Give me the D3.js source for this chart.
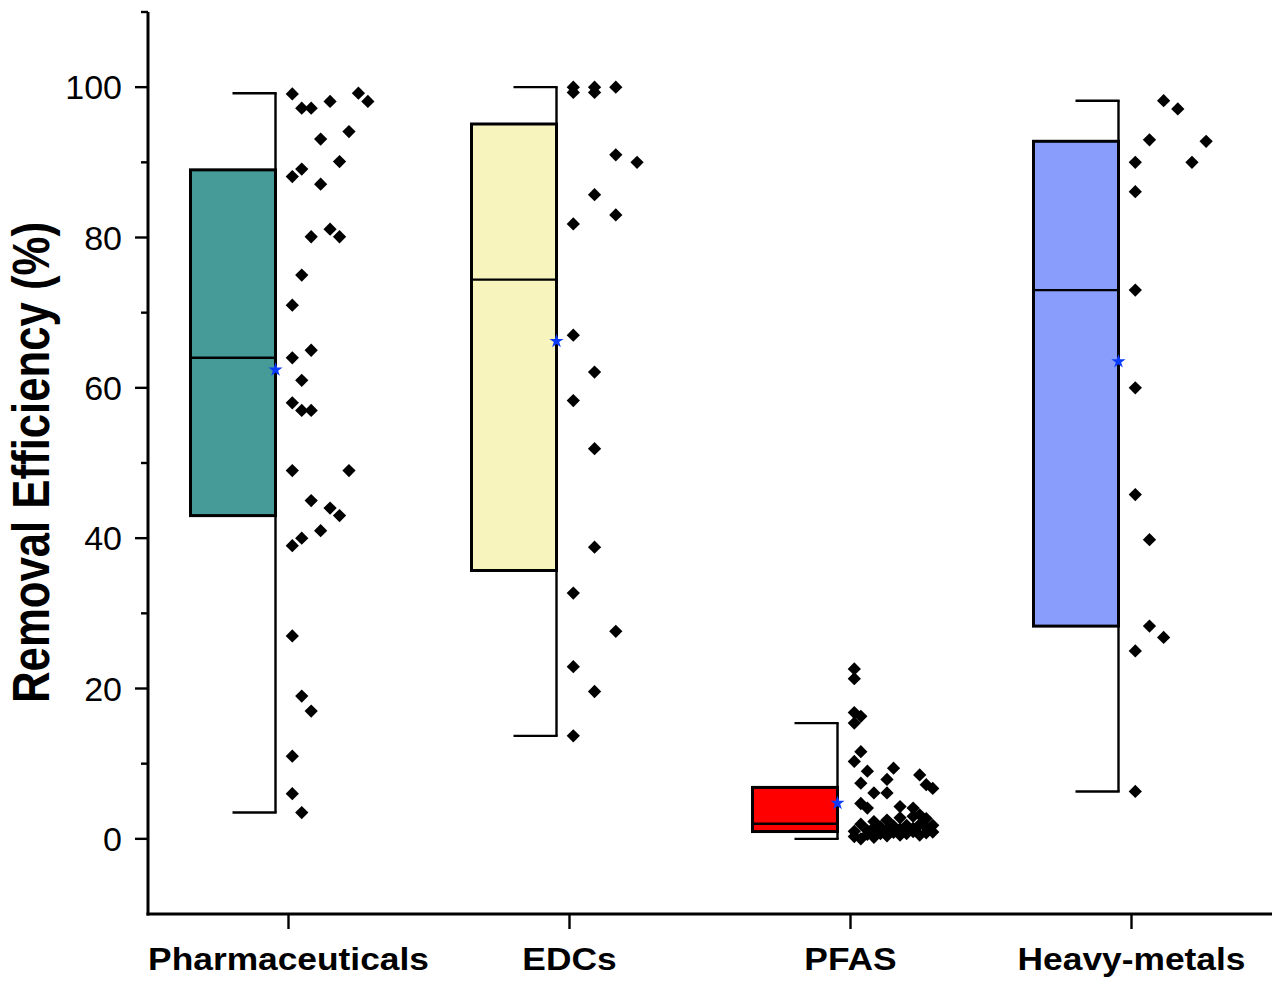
<!DOCTYPE html>
<html>
<head>
<meta charset="utf-8">
<script src="https://cdn.jsdelivr.net/npm/d3@7/dist/d3.min.js"></script>
<style>
  html, body { margin: 0; padding: 0; background: #fff; }
  svg { display: block; }
  text { font-family: "Liberation Sans", Arial, sans-serif; }
</style>
</head>
<body>
<svg id="chart" width="1282" height="990"></svg>
<script>
// ---------------- DATA ----------------
const categories = ["Pharmaceuticals", "EDCs", "PFAS", "Heavy-metals"];
const boxColors  = ["#469a98", "#f7f4be", "#ff0000", "#899dfc"];

const boxQ1        = [43.0, 35.7, 0.97, 28.3];
const boxMedian    = [64.0, 74.4, 2.0, 73.0];
const boxQ3        = [89.0, 95.1, 6.84, 92.8];
const whiskerLow   = [3.5, 13.7, 0.0, 6.3];
const whiskerHigh  = [99.2, 100.0, 15.4, 98.2];
const groupMeans   = [62.4, 66.2, 4.75, 63.5];

const yMajorTicks = [0, 20, 40, 60, 80, 100];
const yMinorTicks = [10, 30, 50, 70, 90, 110];

// raw data points (value) and their jitter slot (column index in the point cloud)
const pharmaValues = [99.1, 97.2, 97.2, 98.1, 99.2, 98.1, 93.1, 94.1, 90.1, 89.1, 88.1, 87.1,
  80.1, 81.1, 80.1, 75.0, 71.0, 64.0, 65.0, 61.0, 58.0, 57.0, 57.0, 49.0, 49.0, 45.0, 44.0,
  43.0, 41.0, 40.0, 39.0, 27.0, 19.0, 17.0, 11.0, 6.0, 3.5];
const pharmaSlots  = [0, 1, 2, 4, 7, 8, 3, 6, 5, 1, 0, 3,
  2, 4, 5, 1, 0, 0, 2, 1, 0, 1, 2, 0, 6, 2, 4,
  5, 3, 1, 0, 0, 1, 2, 0, 0, 1];

const edcValues = [100, 99.3, 100, 99.3, 100, 91.0, 90.0, 85.7, 83.0, 81.8, 67.0, 62.1,
  58.3, 51.9, 38.8, 32.7, 27.6, 22.9, 19.6, 13.7];
const edcSlots  = [0, 0, 1, 1, 2, 2, 3, 1, 2, 0, 0, 1,
  0, 1, 1, 0, 2, 0, 1, 0];

const pfasValues = [22.6, 21.3, 16.8, 16.3, 15.4, 11.6, 10.3, 9.0, 9.4, 8.5, 7.4, 7.9, 7.2,
  6.7, 6.1, 6.1, 4.7, 4.1, 4.3, 4.1, 3.2, 2.7, 2.3, 2.5, 2.8, 3.0,
  0.0, 0.2, 0.3, 0.4, 0.5, 0.5, 0.6, 0.7, 0.7, 0.8, 0.85, 0.9, 0.95,
  1.0, 1.1, 1.2, 1.3, 1.4, 1.5, 1.5, 1.6, 1.7, 1.8, 1.8, 1.9, 1.95];
const pfasSlots  = [0, 0, 0, 1, 0, 1, 0, 2, 6, 10, 1, 5, 11,
  12, 3, 5, 1, 2, 7, 9, 10, 11, 3, 5, 7, 9,
  1, 3, 0, 5, 7, 10, 2, 4, 8, 11, 6, 12, 9,
  0, 2, 5, 7, 9, 3, 11, 4, 6, 8, 12, 10, 1];

const hmValues = [98.2, 97.1, 93.0, 92.8, 90.0, 90.0, 86.1, 73.0, 60.0, 45.8, 39.8, 28.3, 26.8, 25.0, 6.3];
const hmSlots  = [2, 3, 1, 5, 0, 4, 0, 0, 0, 0, 1, 1, 2, 0, 0];

const groupValues = [pharmaValues, edcValues, pfasValues, hmValues];
const groupSlots  = [pharmaSlots, edcSlots, pfasSlots, hmSlots];

// ---------------- LAYOUT ----------------
const svg = d3.select("#chart");
const plotLeft = 148, plotRight = 1272, plotTop = 12, plotBottom = 914;

const x = d3.scalePoint().domain(categories).range([plotLeft, plotRight]).padding(0.5);
const y = d3.scaleLinear().domain([-10, 110]).range([plotBottom, plotTop]);

const boxLeftOff = -98, boxRightOff = -13, capWidth = 43;
const cloudStart = 3.8, cloudWidth = 85;

// ---------------- BOXES ----------------
categories.forEach((cat, i) => {
  const c = x(cat);
  const wx = c + boxRightOff;
  const g = svg.append("g");
  g.append("line")
    .attr("x1", wx).attr("x2", wx)
    .attr("y1", y(whiskerHigh[i])).attr("y2", y(whiskerLow[i]))
    .attr("stroke", "#000").attr("stroke-width", 2.4);
  [whiskerHigh[i], whiskerLow[i]].forEach(v => {
    g.append("line")
      .attr("x1", wx - capWidth).attr("x2", wx + 1.2)
      .attr("y1", y(v)).attr("y2", y(v))
      .attr("stroke", "#000").attr("stroke-width", 2.4);
  });
  g.append("rect")
    .attr("x", c + boxLeftOff)
    .attr("width", boxRightOff - boxLeftOff)
    .attr("y", y(boxQ3[i]))
    .attr("height", y(boxQ1[i]) - y(boxQ3[i]))
    .attr("fill", boxColors[i])
    .attr("stroke", "#000").attr("stroke-width", 3);
  g.append("line")
    .attr("x1", c + boxLeftOff).attr("x2", c + boxRightOff)
    .attr("y1", y(boxMedian[i])).attr("y2", y(boxMedian[i]))
    .attr("stroke", "#000").attr("stroke-width", 2.4);
});

// ---------------- POINTS ----------------
const diamond = d3.symbol().type(d3.symbolSquare).size(88);
categories.forEach((cat, i) => {
  const c = x(cat);
  const vals = groupValues[i], slots = groupSlots[i];
  const nSlots = d3.max(slots) + 1;
  const xs = d3.scaleLinear().domain([0, nSlots]).range([c + cloudStart, c + cloudStart + cloudWidth]);
  const pts = vals.map((v, j) => ({ v, s: slots[j] }));
  svg.append("g").selectAll("path")
    .data(pts).join("path")
    .attr("d", diamond)
    .attr("transform", d => `translate(${xs(d.s)},${y(d.v)}) rotate(45)`)
    .attr("fill", "#000");
});

// ---------------- MEANS ----------------
const star = d3.symbol().type(d3.symbolStar).size(62);
svg.append("g").selectAll("path")
  .data(categories).join("path")
  .attr("d", star)
  .attr("transform", (d, i) => `translate(${x(d) + boxRightOff},${y(groupMeans[i])})`)
  .attr("fill", "#0a3cff");

// ---------------- AXES ----------------
const axisColor = "#000";
const yAxisG = svg.append("g").attr("transform", `translate(${plotLeft},0)`);
yAxisG.append("line")
  .attr("x1", 0).attr("x2", 0).attr("y1", plotTop).attr("y2", plotBottom + 1.5)
  .attr("stroke", axisColor).attr("stroke-width", 3);
yAxisG.selectAll(".maj").data(yMajorTicks).join("line")
  .attr("x1", -13).attr("x2", 0).attr("y1", d => y(d)).attr("y2", d => y(d))
  .attr("stroke", axisColor).attr("stroke-width", 2.4);
yAxisG.selectAll(".min").data(yMinorTicks).join("line")
  .attr("x1", -7).attr("x2", 0).attr("y1", d => y(d)).attr("y2", d => y(d))
  .attr("stroke", axisColor).attr("stroke-width", 2.4);
yAxisG.selectAll("text").data(yMajorTicks).join("text")
  .attr("x", -26).attr("y", d => y(d))
  .attr("dy", "0.36em")
  .attr("text-anchor", "end")
  .attr("font-size", 34)
  .attr("fill", "#000")
  .text(d => d);

const xAxisG = svg.append("g").attr("transform", `translate(0,${plotBottom})`);
xAxisG.append("line")
  .attr("x1", plotLeft - 1.5).attr("x2", plotRight).attr("y1", 0).attr("y2", 0)
  .attr("stroke", axisColor).attr("stroke-width", 3);
xAxisG.selectAll(".tick").data(categories).join("line")
  .attr("x1", d => x(d)).attr("x2", d => x(d)).attr("y1", 0).attr("y2", 15)
  .attr("stroke", axisColor).attr("stroke-width", 2.4);
xAxisG.selectAll("text").data(categories).join("text")
  .attr("transform", d => `translate(${x(d)},56) scale(1.14,1)`)
  .attr("text-anchor", "middle")
  .attr("font-size", 31)
  .attr("font-weight", "bold")
  .attr("fill", "#000")
  .text(d => d);

svg.append("text")
  .attr("transform", `translate(49,462.5) rotate(-90)`)
  .attr("text-anchor", "middle")
  .attr("font-size", 51)
  .attr("font-weight", "bold")
  .attr("textLength", 481)
  .attr("lengthAdjust", "spacingAndGlyphs")
  .attr("fill", "#000")
  .text("Removal Efficiency (%)");
</script>
</body>
</html>
